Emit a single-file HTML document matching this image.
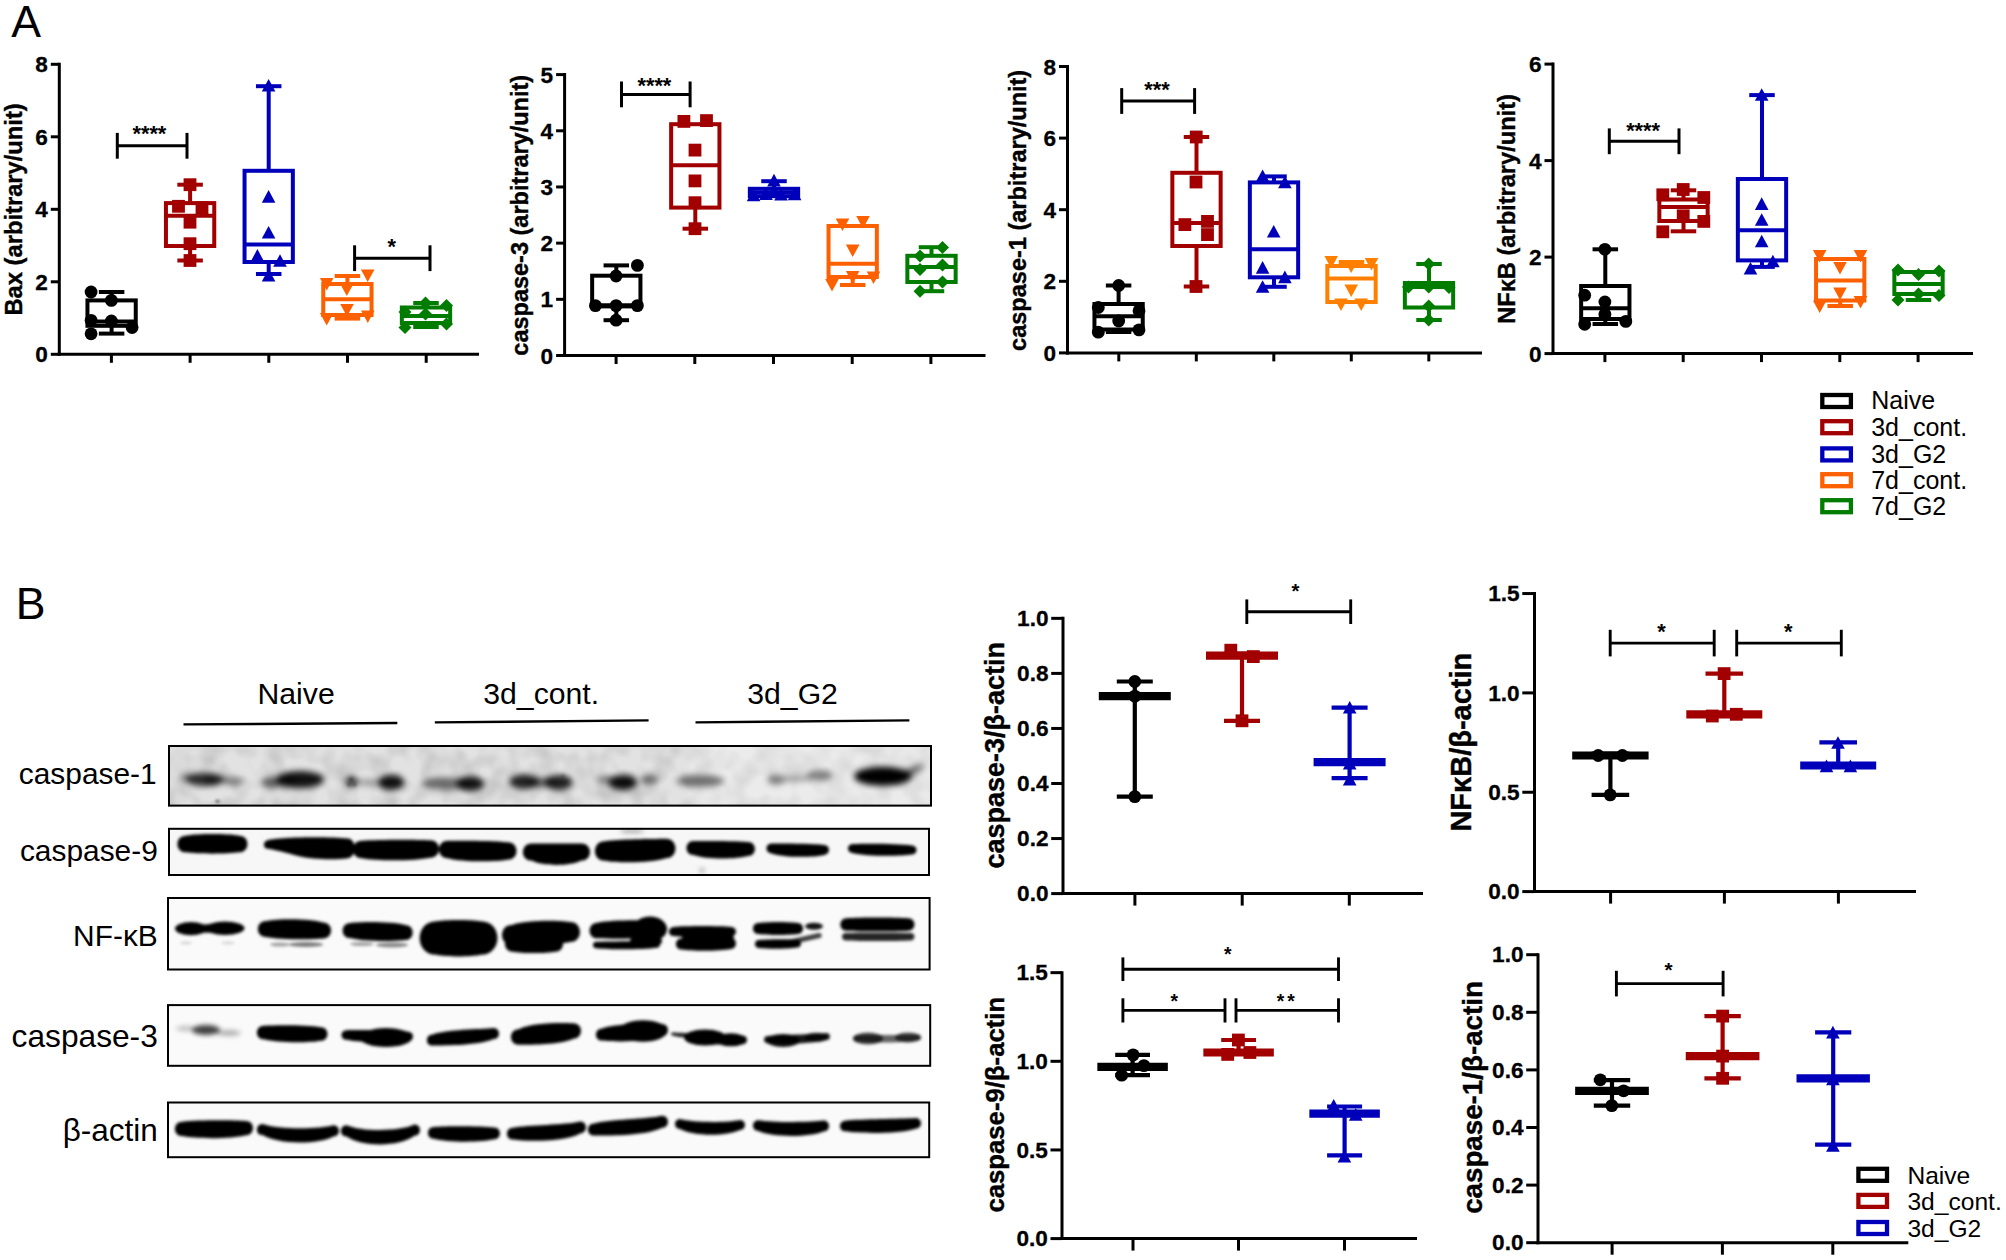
<!DOCTYPE html>
<html lang="en"><head><meta charset="utf-8"><title>Figure</title>
<style>html,body{margin:0;padding:0;background:#fff}svg{display:block}text{font-family:"Liberation Sans",sans-serif;fill:#000}</style>
</head><body>
<svg width="2006" height="1260" viewBox="0 0 2006 1260">
<rect x="0" y="0" width="2006" height="1260" fill="#ffffff"/>
<defs>
<filter id="b2" x="-10%" y="-50%" width="120%" height="200%"><feGaussianBlur stdDeviation="1.6"/></filter>
<filter id="b3" x="-10%" y="-50%" width="120%" height="200%"><feGaussianBlur stdDeviation="2.6"/></filter>
<filter id="b4" x="-10%" y="-60%" width="120%" height="220%"><feGaussianBlur stdDeviation="3.4"/></filter>
<filter id="noise" x="0" y="0" width="100%" height="100%"><feTurbulence type="fractalNoise" baseFrequency="0.045" numOctaves="2" seed="7" result="n"/><feColorMatrix type="matrix" values="0 0 0 0 0  0 0 0 0 0  0 0 0 0 0  0.9 0 0 0 -0.32"/></filter>
</defs>
<text x="11.2" y="36.8" font-size="44.6" font-weight="normal" text-anchor="start">A</text>
<text x="15.8" y="618.8" font-size="44.6" font-weight="normal" text-anchor="start">B</text>
<line x1="59.3" y1="62.8" x2="59.3" y2="355.8" stroke="#000000" stroke-width="3" stroke-linecap="butt"/>
<line x1="57.8" y1="354.3" x2="479" y2="354.3" stroke="#000000" stroke-width="3" stroke-linecap="butt"/>
<line x1="50.8" y1="354.3" x2="59.3" y2="354.3" stroke="#000000" stroke-width="3" stroke-linecap="butt"/>
<text x="47.8" y="362.4" font-size="22.6" font-weight="bold" text-anchor="end" stroke="#000" stroke-width="0.3">0</text>
<line x1="50.8" y1="281.8" x2="59.3" y2="281.8" stroke="#000000" stroke-width="3" stroke-linecap="butt"/>
<text x="47.8" y="289.9" font-size="22.6" font-weight="bold" text-anchor="end" stroke="#000" stroke-width="0.3">2</text>
<line x1="50.8" y1="209.3" x2="59.3" y2="209.3" stroke="#000000" stroke-width="3" stroke-linecap="butt"/>
<text x="47.8" y="217.4" font-size="22.6" font-weight="bold" text-anchor="end" stroke="#000" stroke-width="0.3">4</text>
<line x1="50.8" y1="136.8" x2="59.3" y2="136.8" stroke="#000000" stroke-width="3" stroke-linecap="butt"/>
<text x="47.8" y="144.9" font-size="22.6" font-weight="bold" text-anchor="end" stroke="#000" stroke-width="0.3">6</text>
<line x1="50.8" y1="64.3" x2="59.3" y2="64.3" stroke="#000000" stroke-width="3" stroke-linecap="butt"/>
<text x="47.8" y="72.4" font-size="22.6" font-weight="bold" text-anchor="end" stroke="#000" stroke-width="0.3">8</text>
<line x1="111.4" y1="354.3" x2="111.4" y2="362.8" stroke="#000000" stroke-width="3" stroke-linecap="butt"/>
<line x1="190.1" y1="354.3" x2="190.1" y2="362.8" stroke="#000000" stroke-width="3" stroke-linecap="butt"/>
<line x1="268.8" y1="354.3" x2="268.8" y2="362.8" stroke="#000000" stroke-width="3" stroke-linecap="butt"/>
<line x1="347.5" y1="354.3" x2="347.5" y2="362.8" stroke="#000000" stroke-width="3" stroke-linecap="butt"/>
<line x1="426.2" y1="354.3" x2="426.2" y2="362.8" stroke="#000000" stroke-width="3" stroke-linecap="butt"/>
<text transform="translate(22.3 209.4) rotate(-90)" font-size="23.8" font-weight="bold" text-anchor="middle" stroke="#000" stroke-width="0.4" textLength="212.3" lengthAdjust="spacingAndGlyphs">Bax (arbitrary/unit)</text>
<line x1="117.3" y1="132.9" x2="117.3" y2="158.7" stroke="#000000" stroke-width="3" stroke-linecap="butt"/>
<line x1="187" y1="132.9" x2="187" y2="158.7" stroke="#000000" stroke-width="3" stroke-linecap="butt"/>
<line x1="117.3" y1="145.8" x2="187" y2="145.8" stroke="#000000" stroke-width="3" stroke-linecap="butt"/>
<text x="149.4" y="141.14" font-size="21.8" font-weight="bold" text-anchor="middle">****</text>
<line x1="354.6" y1="245.3" x2="354.6" y2="271.1" stroke="#000000" stroke-width="3" stroke-linecap="butt"/>
<line x1="430" y1="245.3" x2="430" y2="271.1" stroke="#000000" stroke-width="3" stroke-linecap="butt"/>
<line x1="354.6" y1="258.2" x2="430" y2="258.2" stroke="#000000" stroke-width="3" stroke-linecap="butt"/>
<text x="391.8" y="253.64" font-size="21.8" font-weight="bold" text-anchor="middle">*</text>
<rect x="87.45" y="300.4" width="48.3" height="25.4" fill="none" stroke="#000000" stroke-width="4"/>
<line x1="87.45" y1="321.5" x2="135.75" y2="321.5" stroke="#000000" stroke-width="4" stroke-linecap="butt"/>
<line x1="111.6" y1="292" x2="111.6" y2="300.4" stroke="#000000" stroke-width="4" stroke-linecap="butt"/>
<line x1="98.85" y1="292" x2="124.35" y2="292" stroke="#000000" stroke-width="4" stroke-linecap="butt"/>
<line x1="111.6" y1="325.8" x2="111.6" y2="333.6" stroke="#000000" stroke-width="4" stroke-linecap="butt"/>
<line x1="98.85" y1="333.6" x2="124.35" y2="333.6" stroke="#000000" stroke-width="4" stroke-linecap="butt"/>
<circle cx="91.1" cy="292" r="6.4" fill="#000000"/>
<circle cx="111.4" cy="300.4" r="6.4" fill="#000000"/>
<circle cx="91.1" cy="320.3" r="6.4" fill="#000000"/>
<circle cx="111.4" cy="321" r="6.4" fill="#000000"/>
<circle cx="132.1" cy="327.5" r="6.4" fill="#000000"/>
<circle cx="91.1" cy="333.8" r="6.4" fill="#000000"/>
<rect x="165.95" y="203.1" width="48.3" height="42.9" fill="none" stroke="#A20000" stroke-width="4"/>
<line x1="165.95" y1="215.8" x2="214.25" y2="215.8" stroke="#A20000" stroke-width="4" stroke-linecap="butt"/>
<line x1="190.1" y1="184.7" x2="190.1" y2="203.1" stroke="#A20000" stroke-width="4" stroke-linecap="butt"/>
<line x1="177.35" y1="184.7" x2="202.85" y2="184.7" stroke="#A20000" stroke-width="4" stroke-linecap="butt"/>
<line x1="190.1" y1="246" x2="190.1" y2="260.5" stroke="#A20000" stroke-width="4" stroke-linecap="butt"/>
<line x1="177.35" y1="260.5" x2="202.85" y2="260.5" stroke="#A20000" stroke-width="4" stroke-linecap="butt"/>
<rect x="183.6" y="178.3" width="12.8" height="12.8" fill="#A20000"/>
<rect x="172.1" y="199.9" width="12.8" height="12.8" fill="#A20000"/>
<rect x="195.6" y="201.4" width="12.8" height="12.8" fill="#A20000"/>
<rect x="183.6" y="215.8" width="12.8" height="12.8" fill="#A20000"/>
<rect x="183.6" y="237.3" width="12.8" height="12.8" fill="#A20000"/>
<rect x="183.6" y="254.1" width="12.8" height="12.8" fill="#A20000"/>
<rect x="244.55" y="170.8" width="48.3" height="91.2" fill="none" stroke="#0000BA" stroke-width="4"/>
<line x1="244.55" y1="244.5" x2="292.85" y2="244.5" stroke="#0000BA" stroke-width="4" stroke-linecap="butt"/>
<line x1="268.7" y1="86.2" x2="268.7" y2="170.8" stroke="#0000BA" stroke-width="4" stroke-linecap="butt"/>
<line x1="255.95" y1="86.2" x2="281.45" y2="86.2" stroke="#0000BA" stroke-width="4" stroke-linecap="butt"/>
<line x1="268.7" y1="262" x2="268.7" y2="274" stroke="#0000BA" stroke-width="4" stroke-linecap="butt"/>
<line x1="255.95" y1="274" x2="281.45" y2="274" stroke="#0000BA" stroke-width="4" stroke-linecap="butt"/>
<polygon points="268.6,79 275.4,91.6 261.8,91.6" fill="#0000BA"/>
<polygon points="268.6,190.1 275.4,202.7 261.8,202.7" fill="#0000BA"/>
<polygon points="268.6,226 275.4,238.6 261.8,238.6" fill="#0000BA"/>
<polygon points="257.4,249.1 264.2,261.7 250.6,261.7" fill="#0000BA"/>
<polygon points="280,254.2 286.8,266.8 273.2,266.8" fill="#0000BA"/>
<polygon points="268.6,269 275.4,281.6 261.8,281.6" fill="#0000BA"/>
<rect x="323.25" y="284" width="48.3" height="31" fill="none" stroke="#FD6000" stroke-width="4"/>
<line x1="323.25" y1="299.3" x2="371.55" y2="299.3" stroke="#FD6000" stroke-width="4" stroke-linecap="butt"/>
<line x1="347.4" y1="276" x2="347.4" y2="284" stroke="#FD6000" stroke-width="4" stroke-linecap="butt"/>
<line x1="334.65" y1="276" x2="360.15" y2="276" stroke="#FD6000" stroke-width="4" stroke-linecap="butt"/>
<line x1="347.4" y1="315" x2="347.4" y2="318.6" stroke="#FD6000" stroke-width="4" stroke-linecap="butt"/>
<line x1="334.65" y1="318.6" x2="360.15" y2="318.6" stroke="#FD6000" stroke-width="4" stroke-linecap="butt"/>
<polygon points="367.7,282.1 374.5,269.5 360.9,269.5" fill="#FD6000"/>
<polygon points="326.7,290.6 333.5,278 319.9,278" fill="#FD6000"/>
<polygon points="346.8,296.1 353.6,283.5 340,283.5" fill="#FD6000"/>
<polygon points="347,316.6 353.8,304 340.2,304" fill="#FD6000"/>
<polygon points="367.8,323.1 374.6,310.5 361,310.5" fill="#FD6000"/>
<polygon points="326.7,325.6 333.5,313 319.9,313" fill="#FD6000"/>
<rect x="401.85" y="307.5" width="48.3" height="15.5" fill="none" stroke="#007C00" stroke-width="4"/>
<line x1="401.85" y1="316" x2="450.15" y2="316" stroke="#007C00" stroke-width="4" stroke-linecap="butt"/>
<line x1="426" y1="303" x2="426" y2="307.5" stroke="#007C00" stroke-width="4" stroke-linecap="butt"/>
<line x1="413.25" y1="303" x2="438.75" y2="303" stroke="#007C00" stroke-width="4" stroke-linecap="butt"/>
<line x1="426" y1="323" x2="426" y2="327" stroke="#007C00" stroke-width="4" stroke-linecap="butt"/>
<line x1="413.25" y1="327" x2="438.75" y2="327" stroke="#007C00" stroke-width="4" stroke-linecap="butt"/>
<polygon points="425.5,296.5 432,303 425.5,309.5 419,303" fill="#007C00"/>
<polygon points="446.5,299 453,305.5 446.5,312 440,305.5" fill="#007C00"/>
<polygon points="405,305.5 411.5,312 405,318.5 398.5,312" fill="#007C00"/>
<polygon points="425.5,307.5 432,314 425.5,320.5 419,314" fill="#007C00"/>
<polygon points="446.5,317.5 453,324 446.5,330.5 440,324" fill="#007C00"/>
<polygon points="405,321 411.5,327.5 405,334 398.5,327.5" fill="#007C00"/>
<line x1="564.6" y1="73.1" x2="564.6" y2="357" stroke="#000000" stroke-width="3" stroke-linecap="butt"/>
<line x1="563.1" y1="355.5" x2="985.5" y2="355.5" stroke="#000000" stroke-width="3" stroke-linecap="butt"/>
<line x1="556.1" y1="355.5" x2="564.6" y2="355.5" stroke="#000000" stroke-width="3" stroke-linecap="butt"/>
<text x="553.1" y="363.6" font-size="22.6" font-weight="bold" text-anchor="end" stroke="#000" stroke-width="0.3">0</text>
<line x1="556.1" y1="299.32" x2="564.6" y2="299.32" stroke="#000000" stroke-width="3" stroke-linecap="butt"/>
<text x="553.1" y="307.42" font-size="22.6" font-weight="bold" text-anchor="end" stroke="#000" stroke-width="0.3">1</text>
<line x1="556.1" y1="243.14" x2="564.6" y2="243.14" stroke="#000000" stroke-width="3" stroke-linecap="butt"/>
<text x="553.1" y="251.24" font-size="22.6" font-weight="bold" text-anchor="end" stroke="#000" stroke-width="0.3">2</text>
<line x1="556.1" y1="186.96" x2="564.6" y2="186.96" stroke="#000000" stroke-width="3" stroke-linecap="butt"/>
<text x="553.1" y="195.06" font-size="22.6" font-weight="bold" text-anchor="end" stroke="#000" stroke-width="0.3">3</text>
<line x1="556.1" y1="130.78" x2="564.6" y2="130.78" stroke="#000000" stroke-width="3" stroke-linecap="butt"/>
<text x="553.1" y="138.88" font-size="22.6" font-weight="bold" text-anchor="end" stroke="#000" stroke-width="0.3">4</text>
<line x1="556.1" y1="74.6" x2="564.6" y2="74.6" stroke="#000000" stroke-width="3" stroke-linecap="butt"/>
<text x="553.1" y="82.7" font-size="22.6" font-weight="bold" text-anchor="end" stroke="#000" stroke-width="0.3">5</text>
<line x1="616.1" y1="355.5" x2="616.1" y2="364" stroke="#000000" stroke-width="3" stroke-linecap="butt"/>
<line x1="694.8" y1="355.5" x2="694.8" y2="364" stroke="#000000" stroke-width="3" stroke-linecap="butt"/>
<line x1="773.5" y1="355.5" x2="773.5" y2="364" stroke="#000000" stroke-width="3" stroke-linecap="butt"/>
<line x1="852.2" y1="355.5" x2="852.2" y2="364" stroke="#000000" stroke-width="3" stroke-linecap="butt"/>
<line x1="930.9" y1="355.5" x2="930.9" y2="364" stroke="#000000" stroke-width="3" stroke-linecap="butt"/>
<text transform="translate(527.9 215.3) rotate(-90)" font-size="23.8" font-weight="bold" text-anchor="middle" stroke="#000" stroke-width="0.4" textLength="280.7" lengthAdjust="spacingAndGlyphs">caspase-3 (arbitrary/unit)</text>
<line x1="621.5" y1="81.5" x2="621.5" y2="107.3" stroke="#000000" stroke-width="3" stroke-linecap="butt"/>
<line x1="690.1" y1="81.5" x2="690.1" y2="107.3" stroke="#000000" stroke-width="3" stroke-linecap="butt"/>
<line x1="621.5" y1="94.4" x2="690.1" y2="94.4" stroke="#000000" stroke-width="3" stroke-linecap="butt"/>
<text x="654.4" y="93.14" font-size="21.8" font-weight="bold" text-anchor="middle">****</text>
<rect x="592.15" y="275.7" width="48.3" height="30.7" fill="none" stroke="#000000" stroke-width="4"/>
<line x1="592.15" y1="305.3" x2="640.45" y2="305.3" stroke="#000000" stroke-width="4" stroke-linecap="butt"/>
<line x1="616.3" y1="265.4" x2="616.3" y2="275.7" stroke="#000000" stroke-width="4" stroke-linecap="butt"/>
<line x1="603.55" y1="265.4" x2="629.05" y2="265.4" stroke="#000000" stroke-width="4" stroke-linecap="butt"/>
<line x1="616.3" y1="306.4" x2="616.3" y2="320.2" stroke="#000000" stroke-width="4" stroke-linecap="butt"/>
<line x1="603.55" y1="320.2" x2="629.05" y2="320.2" stroke="#000000" stroke-width="4" stroke-linecap="butt"/>
<circle cx="637.4" cy="265.4" r="6.4" fill="#000000"/>
<circle cx="616.1" cy="276" r="6.4" fill="#000000"/>
<circle cx="595.4" cy="305.6" r="6.4" fill="#000000"/>
<circle cx="616.1" cy="305.6" r="6.4" fill="#000000"/>
<circle cx="637.4" cy="305.6" r="6.4" fill="#000000"/>
<circle cx="616.1" cy="320.2" r="6.4" fill="#000000"/>
<rect x="671.15" y="124.2" width="48.3" height="83.4" fill="none" stroke="#A20000" stroke-width="4"/>
<line x1="671.15" y1="165.3" x2="719.45" y2="165.3" stroke="#A20000" stroke-width="4" stroke-linecap="butt"/>
<line x1="695.3" y1="207.6" x2="695.3" y2="228.7" stroke="#A20000" stroke-width="4" stroke-linecap="butt"/>
<line x1="682.55" y1="228.7" x2="708.05" y2="228.7" stroke="#A20000" stroke-width="4" stroke-linecap="butt"/>
<rect x="677.5" y="115" width="12.8" height="12.8" fill="#A20000"/>
<rect x="700.1" y="114.2" width="12.8" height="12.8" fill="#A20000"/>
<rect x="688.6" y="143.7" width="12.8" height="12.8" fill="#A20000"/>
<rect x="688.6" y="174.5" width="12.8" height="12.8" fill="#A20000"/>
<rect x="688.6" y="196.3" width="12.8" height="12.8" fill="#A20000"/>
<rect x="688.6" y="222.3" width="12.8" height="12.8" fill="#A20000"/>
<rect x="749.85" y="188.8" width="48.3" height="7.4" fill="none" stroke="#0000BA" stroke-width="4"/>
<line x1="749.85" y1="192.5" x2="798.15" y2="192.5" stroke="#0000BA" stroke-width="4" stroke-linecap="butt"/>
<line x1="774" y1="181.2" x2="774" y2="188.8" stroke="#0000BA" stroke-width="4" stroke-linecap="butt"/>
<line x1="761.25" y1="181.2" x2="786.75" y2="181.2" stroke="#0000BA" stroke-width="4" stroke-linecap="butt"/>
<polygon points="774,173.8 780.8,186.4 767.2,186.4" fill="#0000BA"/>
<polygon points="753.6,188.7 760.4,201.3 746.8,201.3" fill="#0000BA"/>
<polygon points="766,187.4 772.8,200 759.2,200" fill="#0000BA"/>
<polygon points="781,187.9 787.8,200.5 774.2,200.5" fill="#0000BA"/>
<polygon points="794.6,187.6 801.4,200.2 787.8,200.2" fill="#0000BA"/>
<polygon points="774,185.4 780.8,198 767.2,198" fill="#0000BA"/>
<rect x="828.55" y="226" width="48.3" height="51" fill="none" stroke="#FD6000" stroke-width="4"/>
<line x1="828.55" y1="263.8" x2="876.85" y2="263.8" stroke="#FD6000" stroke-width="4" stroke-linecap="butt"/>
<line x1="852.7" y1="277" x2="852.7" y2="285" stroke="#FD6000" stroke-width="4" stroke-linecap="butt"/>
<line x1="839.95" y1="285" x2="865.45" y2="285" stroke="#FD6000" stroke-width="4" stroke-linecap="butt"/>
<polygon points="842.5,231.1 849.3,218.5 835.7,218.5" fill="#FD6000"/>
<polygon points="863,228.6 869.8,216 856.2,216" fill="#FD6000"/>
<polygon points="852.7,257.1 859.5,244.5 845.9,244.5" fill="#FD6000"/>
<polygon points="852.7,283.6 859.5,271 845.9,271" fill="#FD6000"/>
<polygon points="873.5,284.1 880.3,271.5 866.7,271.5" fill="#FD6000"/>
<polygon points="832,291.6 838.8,279 825.2,279" fill="#FD6000"/>
<rect x="907.35" y="255.8" width="48.3" height="26.2" fill="none" stroke="#007C00" stroke-width="4"/>
<line x1="907.35" y1="267" x2="955.65" y2="267" stroke="#007C00" stroke-width="4" stroke-linecap="butt"/>
<line x1="931.5" y1="247.2" x2="931.5" y2="255.8" stroke="#007C00" stroke-width="4" stroke-linecap="butt"/>
<line x1="918.75" y1="247.2" x2="944.25" y2="247.2" stroke="#007C00" stroke-width="4" stroke-linecap="butt"/>
<line x1="931.5" y1="282" x2="931.5" y2="291.2" stroke="#007C00" stroke-width="4" stroke-linecap="butt"/>
<line x1="918.75" y1="291.2" x2="944.25" y2="291.2" stroke="#007C00" stroke-width="4" stroke-linecap="butt"/>
<polygon points="942.5,241 949,247.5 942.5,254 936,247.5" fill="#007C00"/>
<polygon points="920,249.5 926.5,256 920,262.5 913.5,256" fill="#007C00"/>
<polygon points="942.5,258.5 949,265 942.5,271.5 936,265" fill="#007C00"/>
<polygon points="920,263 926.5,269.5 920,276 913.5,269.5" fill="#007C00"/>
<polygon points="942.5,275.5 949,282 942.5,288.5 936,282" fill="#007C00"/>
<polygon points="920,284.7 926.5,291.2 920,297.7 913.5,291.2" fill="#007C00"/>
<line x1="1067.5" y1="65" x2="1067.5" y2="354.4" stroke="#000000" stroke-width="3" stroke-linecap="butt"/>
<line x1="1066" y1="352.9" x2="1482" y2="352.9" stroke="#000000" stroke-width="3" stroke-linecap="butt"/>
<line x1="1059" y1="352.9" x2="1067.5" y2="352.9" stroke="#000000" stroke-width="3" stroke-linecap="butt"/>
<text x="1056" y="361" font-size="22.6" font-weight="bold" text-anchor="end" stroke="#000" stroke-width="0.3">0</text>
<line x1="1059" y1="281.3" x2="1067.5" y2="281.3" stroke="#000000" stroke-width="3" stroke-linecap="butt"/>
<text x="1056" y="289.4" font-size="22.6" font-weight="bold" text-anchor="end" stroke="#000" stroke-width="0.3">2</text>
<line x1="1059" y1="209.7" x2="1067.5" y2="209.7" stroke="#000000" stroke-width="3" stroke-linecap="butt"/>
<text x="1056" y="217.8" font-size="22.6" font-weight="bold" text-anchor="end" stroke="#000" stroke-width="0.3">4</text>
<line x1="1059" y1="138.1" x2="1067.5" y2="138.1" stroke="#000000" stroke-width="3" stroke-linecap="butt"/>
<text x="1056" y="146.2" font-size="22.6" font-weight="bold" text-anchor="end" stroke="#000" stroke-width="0.3">6</text>
<line x1="1059" y1="66.5" x2="1067.5" y2="66.5" stroke="#000000" stroke-width="3" stroke-linecap="butt"/>
<text x="1056" y="74.6" font-size="22.6" font-weight="bold" text-anchor="end" stroke="#000" stroke-width="0.3">8</text>
<line x1="1118.8" y1="352.9" x2="1118.8" y2="361.4" stroke="#000000" stroke-width="3" stroke-linecap="butt"/>
<line x1="1196.3" y1="352.9" x2="1196.3" y2="361.4" stroke="#000000" stroke-width="3" stroke-linecap="butt"/>
<line x1="1273.8" y1="352.9" x2="1273.8" y2="361.4" stroke="#000000" stroke-width="3" stroke-linecap="butt"/>
<line x1="1351.3" y1="352.9" x2="1351.3" y2="361.4" stroke="#000000" stroke-width="3" stroke-linecap="butt"/>
<line x1="1428.8" y1="352.9" x2="1428.8" y2="361.4" stroke="#000000" stroke-width="3" stroke-linecap="butt"/>
<text transform="translate(1026.4 210.35) rotate(-90)" font-size="23.8" font-weight="bold" text-anchor="middle" stroke="#000" stroke-width="0.4" textLength="281.1" lengthAdjust="spacingAndGlyphs">caspase-1 (arbitrary/unit)</text>
<line x1="1121.7" y1="88.1" x2="1121.7" y2="113.9" stroke="#000000" stroke-width="3" stroke-linecap="butt"/>
<line x1="1194.6" y1="88.1" x2="1194.6" y2="113.9" stroke="#000000" stroke-width="3" stroke-linecap="butt"/>
<line x1="1121.7" y1="101" x2="1194.6" y2="101" stroke="#000000" stroke-width="3" stroke-linecap="butt"/>
<text x="1157.1" y="96.64" font-size="21.8" font-weight="bold" text-anchor="middle">***</text>
<rect x="1094.45" y="304" width="48.3" height="25.5" fill="none" stroke="#000000" stroke-width="4"/>
<line x1="1094.45" y1="316.3" x2="1142.75" y2="316.3" stroke="#000000" stroke-width="4" stroke-linecap="butt"/>
<line x1="1118.6" y1="285.5" x2="1118.6" y2="304" stroke="#000000" stroke-width="4" stroke-linecap="butt"/>
<line x1="1105.85" y1="285.5" x2="1131.35" y2="285.5" stroke="#000000" stroke-width="4" stroke-linecap="butt"/>
<line x1="1118.6" y1="329.5" x2="1118.6" y2="332" stroke="#000000" stroke-width="4" stroke-linecap="butt"/>
<line x1="1105.85" y1="332" x2="1131.35" y2="332" stroke="#000000" stroke-width="4" stroke-linecap="butt"/>
<circle cx="1118.7" cy="285.5" r="6.4" fill="#000000"/>
<circle cx="1098.3" cy="307.5" r="6.4" fill="#000000"/>
<circle cx="1139" cy="310.7" r="6.4" fill="#000000"/>
<circle cx="1118.7" cy="321" r="6.4" fill="#000000"/>
<circle cx="1139" cy="329.9" r="6.4" fill="#000000"/>
<circle cx="1098.3" cy="332.2" r="6.4" fill="#000000"/>
<rect x="1172.35" y="172.8" width="48.3" height="73.2" fill="none" stroke="#A20000" stroke-width="4"/>
<line x1="1172.35" y1="223" x2="1220.65" y2="223" stroke="#A20000" stroke-width="4" stroke-linecap="butt"/>
<line x1="1196.5" y1="137" x2="1196.5" y2="172.8" stroke="#A20000" stroke-width="4" stroke-linecap="butt"/>
<line x1="1183.75" y1="137" x2="1209.25" y2="137" stroke="#A20000" stroke-width="4" stroke-linecap="butt"/>
<line x1="1196.5" y1="246" x2="1196.5" y2="286.5" stroke="#A20000" stroke-width="4" stroke-linecap="butt"/>
<line x1="1183.75" y1="286.5" x2="1209.25" y2="286.5" stroke="#A20000" stroke-width="4" stroke-linecap="butt"/>
<rect x="1189.8" y="130.6" width="12.8" height="12.8" fill="#A20000"/>
<rect x="1189.6" y="175.6" width="12.8" height="12.8" fill="#A20000"/>
<rect x="1178.5" y="218.2" width="12.8" height="12.8" fill="#A20000"/>
<rect x="1201.1" y="215" width="12.8" height="12.8" fill="#A20000"/>
<rect x="1201.1" y="228.2" width="12.8" height="12.8" fill="#A20000"/>
<rect x="1189.6" y="280.1" width="12.8" height="12.8" fill="#A20000"/>
<rect x="1249.85" y="182.4" width="48.3" height="94.9" fill="none" stroke="#0000BA" stroke-width="4"/>
<line x1="1249.85" y1="249.3" x2="1298.15" y2="249.3" stroke="#0000BA" stroke-width="4" stroke-linecap="butt"/>
<line x1="1274" y1="176.4" x2="1274" y2="182.4" stroke="#0000BA" stroke-width="4" stroke-linecap="butt"/>
<line x1="1261.25" y1="176.4" x2="1286.75" y2="176.4" stroke="#0000BA" stroke-width="4" stroke-linecap="butt"/>
<line x1="1274" y1="277.3" x2="1274" y2="286.8" stroke="#0000BA" stroke-width="4" stroke-linecap="butt"/>
<line x1="1261.25" y1="286.8" x2="1286.75" y2="286.8" stroke="#0000BA" stroke-width="4" stroke-linecap="butt"/>
<polygon points="1262.6,169.4 1269.4,182 1255.8,182" fill="#0000BA"/>
<polygon points="1284.9,175.7 1291.7,188.3 1278.1,188.3" fill="#0000BA"/>
<polygon points="1273.7,224.9 1280.5,237.5 1266.9,237.5" fill="#0000BA"/>
<polygon points="1262.6,261.1 1269.4,273.7 1255.8,273.7" fill="#0000BA"/>
<polygon points="1284.9,270.6 1291.7,283.2 1278.1,283.2" fill="#0000BA"/>
<polygon points="1262.6,280.2 1269.4,292.8 1255.8,292.8" fill="#0000BA"/>
<rect x="1327.35" y="266" width="48.3" height="36" fill="none" stroke="#FF8000" stroke-width="4"/>
<line x1="1327.35" y1="278.5" x2="1375.65" y2="278.5" stroke="#FF8000" stroke-width="4" stroke-linecap="butt"/>
<line x1="1351.5" y1="262" x2="1351.5" y2="266" stroke="#FF8000" stroke-width="4" stroke-linecap="butt"/>
<line x1="1338.75" y1="262" x2="1364.25" y2="262" stroke="#FF8000" stroke-width="4" stroke-linecap="butt"/>
<polygon points="1331.2,268.6 1338,256 1324.4,256" fill="#FF8000"/>
<polygon points="1371.5,270.6 1378.3,258 1364.7,258" fill="#FF8000"/>
<polygon points="1351.2,273.1 1358,260.5 1344.4,260.5" fill="#FF8000"/>
<polygon points="1351.2,297.1 1358,284.5 1344.4,284.5" fill="#FF8000"/>
<polygon points="1341,311.1 1347.8,298.5 1334.2,298.5" fill="#FF8000"/>
<polygon points="1361.2,311.1 1368,298.5 1354.4,298.5" fill="#FF8000"/>
<rect x="1404.85" y="283" width="48.3" height="24.5" fill="none" stroke="#007C00" stroke-width="4"/>
<line x1="1404.85" y1="287" x2="1453.15" y2="287" stroke="#007C00" stroke-width="4" stroke-linecap="butt"/>
<line x1="1429" y1="264" x2="1429" y2="283" stroke="#007C00" stroke-width="4" stroke-linecap="butt"/>
<line x1="1416.25" y1="264" x2="1441.75" y2="264" stroke="#007C00" stroke-width="4" stroke-linecap="butt"/>
<line x1="1429" y1="307.5" x2="1429" y2="320" stroke="#007C00" stroke-width="4" stroke-linecap="butt"/>
<line x1="1416.25" y1="320" x2="1441.75" y2="320" stroke="#007C00" stroke-width="4" stroke-linecap="butt"/>
<polygon points="1428.7,257.5 1435.2,264 1428.7,270.5 1422.2,264" fill="#007C00"/>
<polygon points="1408.5,280.5 1415,287 1408.5,293.5 1402,287" fill="#007C00"/>
<polygon points="1428.7,280.5 1435.2,287 1428.7,293.5 1422.2,287" fill="#007C00"/>
<polygon points="1449,281 1455.5,287.5 1449,294 1442.5,287.5" fill="#007C00"/>
<polygon points="1428.7,299.5 1435.2,306 1428.7,312.5 1422.2,306" fill="#007C00"/>
<polygon points="1428.7,313.5 1435.2,320 1428.7,326.5 1422.2,320" fill="#007C00"/>
<line x1="1553" y1="62.6" x2="1553" y2="355.1" stroke="#000000" stroke-width="3" stroke-linecap="butt"/>
<line x1="1551.5" y1="353.6" x2="1973" y2="353.6" stroke="#000000" stroke-width="3" stroke-linecap="butt"/>
<line x1="1544.5" y1="353.6" x2="1553" y2="353.6" stroke="#000000" stroke-width="3" stroke-linecap="butt"/>
<text x="1541.5" y="361.7" font-size="22.6" font-weight="bold" text-anchor="end" stroke="#000" stroke-width="0.3">0</text>
<line x1="1544.5" y1="257.1" x2="1553" y2="257.1" stroke="#000000" stroke-width="3" stroke-linecap="butt"/>
<text x="1541.5" y="265.2" font-size="22.6" font-weight="bold" text-anchor="end" stroke="#000" stroke-width="0.3">2</text>
<line x1="1544.5" y1="160.6" x2="1553" y2="160.6" stroke="#000000" stroke-width="3" stroke-linecap="butt"/>
<text x="1541.5" y="168.7" font-size="22.6" font-weight="bold" text-anchor="end" stroke="#000" stroke-width="0.3">4</text>
<line x1="1544.5" y1="64.1" x2="1553" y2="64.1" stroke="#000000" stroke-width="3" stroke-linecap="butt"/>
<text x="1541.5" y="72.2" font-size="22.6" font-weight="bold" text-anchor="end" stroke="#000" stroke-width="0.3">6</text>
<line x1="1604.9" y1="353.6" x2="1604.9" y2="362.1" stroke="#000000" stroke-width="3" stroke-linecap="butt"/>
<line x1="1683.2" y1="353.6" x2="1683.2" y2="362.1" stroke="#000000" stroke-width="3" stroke-linecap="butt"/>
<line x1="1761.5" y1="353.6" x2="1761.5" y2="362.1" stroke="#000000" stroke-width="3" stroke-linecap="butt"/>
<line x1="1839.8" y1="353.6" x2="1839.8" y2="362.1" stroke="#000000" stroke-width="3" stroke-linecap="butt"/>
<line x1="1918.1" y1="353.6" x2="1918.1" y2="362.1" stroke="#000000" stroke-width="3" stroke-linecap="butt"/>
<text transform="translate(1514.7 208.95) rotate(-90)" font-size="23.8" font-weight="bold" text-anchor="middle" stroke="#000" stroke-width="0.4" textLength="229.7" lengthAdjust="spacingAndGlyphs">NFκB (arbitrary/unit)</text>
<line x1="1609.3" y1="128.4" x2="1609.3" y2="154.2" stroke="#000000" stroke-width="3" stroke-linecap="butt"/>
<line x1="1679" y1="128.4" x2="1679" y2="154.2" stroke="#000000" stroke-width="3" stroke-linecap="butt"/>
<line x1="1609.3" y1="141.3" x2="1679" y2="141.3" stroke="#000000" stroke-width="3" stroke-linecap="butt"/>
<text x="1643.1" y="138.14" font-size="21.8" font-weight="bold" text-anchor="middle">****</text>
<rect x="1581.15" y="286" width="48.3" height="33" fill="none" stroke="#000000" stroke-width="4"/>
<line x1="1581.15" y1="308.3" x2="1629.45" y2="308.3" stroke="#000000" stroke-width="4" stroke-linecap="butt"/>
<line x1="1605.3" y1="249.3" x2="1605.3" y2="286" stroke="#000000" stroke-width="4" stroke-linecap="butt"/>
<line x1="1592.55" y1="249.3" x2="1618.05" y2="249.3" stroke="#000000" stroke-width="4" stroke-linecap="butt"/>
<line x1="1605.3" y1="319" x2="1605.3" y2="324" stroke="#000000" stroke-width="4" stroke-linecap="butt"/>
<line x1="1592.55" y1="324" x2="1618.05" y2="324" stroke="#000000" stroke-width="4" stroke-linecap="butt"/>
<circle cx="1604.9" cy="249.3" r="6.4" fill="#000000"/>
<circle cx="1584.7" cy="295.2" r="6.4" fill="#000000"/>
<circle cx="1604.9" cy="302" r="6.4" fill="#000000"/>
<circle cx="1604.9" cy="314.4" r="6.4" fill="#000000"/>
<circle cx="1625.8" cy="321.4" r="6.4" fill="#000000"/>
<circle cx="1584.7" cy="324.3" r="6.4" fill="#000000"/>
<rect x="1659.35" y="199.5" width="48.3" height="21.5" fill="none" stroke="#A20000" stroke-width="4"/>
<line x1="1659.35" y1="207" x2="1707.65" y2="207" stroke="#A20000" stroke-width="4" stroke-linecap="butt"/>
<line x1="1683.5" y1="190.3" x2="1683.5" y2="199.5" stroke="#A20000" stroke-width="4" stroke-linecap="butt"/>
<line x1="1670.75" y1="190.3" x2="1696.25" y2="190.3" stroke="#A20000" stroke-width="4" stroke-linecap="butt"/>
<line x1="1683.5" y1="221" x2="1683.5" y2="231.3" stroke="#A20000" stroke-width="4" stroke-linecap="butt"/>
<line x1="1670.75" y1="231.3" x2="1696.25" y2="231.3" stroke="#A20000" stroke-width="4" stroke-linecap="butt"/>
<rect x="1676.8" y="183.1" width="12.8" height="12.8" fill="#A20000"/>
<rect x="1656.4" y="188.4" width="12.8" height="12.8" fill="#A20000"/>
<rect x="1697.4" y="191.1" width="12.8" height="12.8" fill="#A20000"/>
<rect x="1676.8" y="209.4" width="12.8" height="12.8" fill="#A20000"/>
<rect x="1697.4" y="215" width="12.8" height="12.8" fill="#A20000"/>
<rect x="1656.4" y="225.4" width="12.8" height="12.8" fill="#A20000"/>
<rect x="1737.85" y="179" width="48.3" height="81.4" fill="none" stroke="#0000BA" stroke-width="4"/>
<line x1="1737.85" y1="230.2" x2="1786.15" y2="230.2" stroke="#0000BA" stroke-width="4" stroke-linecap="butt"/>
<line x1="1762" y1="95.1" x2="1762" y2="179" stroke="#0000BA" stroke-width="4" stroke-linecap="butt"/>
<line x1="1749.25" y1="95.1" x2="1774.75" y2="95.1" stroke="#0000BA" stroke-width="4" stroke-linecap="butt"/>
<line x1="1762" y1="260.4" x2="1762" y2="266.9" stroke="#0000BA" stroke-width="4" stroke-linecap="butt"/>
<line x1="1749.25" y1="266.9" x2="1774.75" y2="266.9" stroke="#0000BA" stroke-width="4" stroke-linecap="butt"/>
<polygon points="1761.7,88.2 1768.5,100.8 1754.9,100.8" fill="#0000BA"/>
<polygon points="1761.7,197.3 1768.5,209.9 1754.9,209.9" fill="#0000BA"/>
<polygon points="1761.7,213.2 1768.5,225.8 1754.9,225.8" fill="#0000BA"/>
<polygon points="1761.7,234.7 1768.5,247.3 1754.9,247.3" fill="#0000BA"/>
<polygon points="1772.9,254.7 1779.7,267.3 1766.1,267.3" fill="#0000BA"/>
<polygon points="1750.5,261.9 1757.3,274.5 1743.7,274.5" fill="#0000BA"/>
<rect x="1816.05" y="259" width="48.3" height="41.5" fill="none" stroke="#FD6000" stroke-width="4"/>
<line x1="1816.05" y1="280.5" x2="1864.35" y2="280.5" stroke="#FD6000" stroke-width="4" stroke-linecap="butt"/>
<line x1="1840.2" y1="300.5" x2="1840.2" y2="306" stroke="#FD6000" stroke-width="4" stroke-linecap="butt"/>
<line x1="1827.45" y1="306" x2="1852.95" y2="306" stroke="#FD6000" stroke-width="4" stroke-linecap="butt"/>
<polygon points="1819.7,262.6 1826.5,250 1812.9,250" fill="#FD6000"/>
<polygon points="1860.5,262.6 1867.3,250 1853.7,250" fill="#FD6000"/>
<polygon points="1840,274.6 1846.8,262 1833.2,262" fill="#FD6000"/>
<polygon points="1840,300.1 1846.8,287.5 1833.2,287.5" fill="#FD6000"/>
<polygon points="1860.5,308.6 1867.3,296 1853.7,296" fill="#FD6000"/>
<polygon points="1819.7,313.1 1826.5,300.5 1812.9,300.5" fill="#FD6000"/>
<rect x="1894.35" y="272" width="48.3" height="22" fill="none" stroke="#007C00" stroke-width="4"/>
<line x1="1894.35" y1="284" x2="1942.65" y2="284" stroke="#007C00" stroke-width="4" stroke-linecap="butt"/>
<line x1="1918.5" y1="294" x2="1918.5" y2="300" stroke="#007C00" stroke-width="4" stroke-linecap="butt"/>
<line x1="1905.75" y1="300" x2="1931.25" y2="300" stroke="#007C00" stroke-width="4" stroke-linecap="butt"/>
<polygon points="1898,263.5 1904.5,270 1898,276.5 1891.5,270" fill="#007C00"/>
<polygon points="1939,264.5 1945.5,271 1939,277.5 1932.5,271" fill="#007C00"/>
<polygon points="1918.5,268 1925,274.5 1918.5,281 1912,274.5" fill="#007C00"/>
<polygon points="1918.5,287.5 1925,294 1918.5,300.5 1912,294" fill="#007C00"/>
<polygon points="1939,289 1945.5,295.5 1939,302 1932.5,295.5" fill="#007C00"/>
<polygon points="1898,293.5 1904.5,300 1898,306.5 1891.5,300" fill="#007C00"/>
<rect x="1822.3" y="395" width="28.6" height="12" fill="none" stroke="#000000" stroke-width="4.3"/>
<text x="1871.2" y="409.3" font-size="25" font-weight="normal" text-anchor="start">Naive</text>
<rect x="1822.3" y="421.2" width="28.6" height="12" fill="none" stroke="#A20000" stroke-width="4.3"/>
<text x="1871.2" y="435.5" font-size="25" font-weight="normal" text-anchor="start">3d_cont.</text>
<rect x="1822.3" y="448.4" width="28.6" height="12" fill="none" stroke="#0000BA" stroke-width="4.3"/>
<text x="1871.2" y="462.7" font-size="25" font-weight="normal" text-anchor="start">3d_G2</text>
<rect x="1822.3" y="474.2" width="28.6" height="12" fill="none" stroke="#FD6000" stroke-width="4.3"/>
<text x="1871.2" y="488.5" font-size="25" font-weight="normal" text-anchor="start">7d_cont.</text>
<rect x="1822.3" y="500.2" width="28.6" height="12" fill="none" stroke="#007C00" stroke-width="4.3"/>
<text x="1871.2" y="514.5" font-size="25" font-weight="normal" text-anchor="start">7d_G2</text>
<line x1="1063" y1="616.85" x2="1063" y2="895.1" stroke="#000000" stroke-width="3" stroke-linecap="butt"/>
<line x1="1061.5" y1="893.6" x2="1423" y2="893.6" stroke="#000000" stroke-width="3" stroke-linecap="butt"/>
<line x1="1051.2" y1="893.6" x2="1063" y2="893.6" stroke="#000000" stroke-width="3" stroke-linecap="butt"/>
<text x="1048.5" y="901.2" font-size="22.6" font-weight="bold" text-anchor="end" stroke="#000" stroke-width="0.3">0.0</text>
<line x1="1051.2" y1="838.55" x2="1063" y2="838.55" stroke="#000000" stroke-width="3" stroke-linecap="butt"/>
<text x="1048.5" y="846.15" font-size="22.6" font-weight="bold" text-anchor="end" stroke="#000" stroke-width="0.3">0.2</text>
<line x1="1051.2" y1="783.5" x2="1063" y2="783.5" stroke="#000000" stroke-width="3" stroke-linecap="butt"/>
<text x="1048.5" y="791.1" font-size="22.6" font-weight="bold" text-anchor="end" stroke="#000" stroke-width="0.3">0.4</text>
<line x1="1051.2" y1="728.45" x2="1063" y2="728.45" stroke="#000000" stroke-width="3" stroke-linecap="butt"/>
<text x="1048.5" y="736.05" font-size="22.6" font-weight="bold" text-anchor="end" stroke="#000" stroke-width="0.3">0.6</text>
<line x1="1051.2" y1="673.4" x2="1063" y2="673.4" stroke="#000000" stroke-width="3" stroke-linecap="butt"/>
<text x="1048.5" y="681" font-size="22.6" font-weight="bold" text-anchor="end" stroke="#000" stroke-width="0.3">0.8</text>
<line x1="1051.2" y1="618.35" x2="1063" y2="618.35" stroke="#000000" stroke-width="3" stroke-linecap="butt"/>
<text x="1048.5" y="625.95" font-size="22.6" font-weight="bold" text-anchor="end" stroke="#000" stroke-width="0.3">1.0</text>
<line x1="1134.9" y1="893.6" x2="1134.9" y2="905.6" stroke="#000000" stroke-width="3" stroke-linecap="butt"/>
<line x1="1242.2" y1="893.6" x2="1242.2" y2="905.6" stroke="#000000" stroke-width="3" stroke-linecap="butt"/>
<line x1="1349.3" y1="893.6" x2="1349.3" y2="905.6" stroke="#000000" stroke-width="3" stroke-linecap="butt"/>
<text transform="translate(1004.3 755.2) rotate(-90)" font-size="27" font-weight="bold" text-anchor="middle" stroke="#000" stroke-width="0.4" textLength="226.4" lengthAdjust="spacingAndGlyphs">caspase-3/β-actin</text>
<line x1="1246.8" y1="599.4" x2="1246.8" y2="624" stroke="#000000" stroke-width="2.9" stroke-linecap="butt"/>
<line x1="1350.7" y1="599.4" x2="1350.7" y2="624" stroke="#000000" stroke-width="2.9" stroke-linecap="butt"/>
<line x1="1246.8" y1="611.7" x2="1350.7" y2="611.7" stroke="#000000" stroke-width="2.9" stroke-linecap="butt"/>
<text x="1295.4" y="597.9" font-size="20.3" font-weight="bold" text-anchor="middle">*</text>
<line x1="1134.8" y1="681.5" x2="1134.8" y2="796.6" stroke="#000000" stroke-width="4.2" stroke-linecap="butt"/>
<line x1="1116.8" y1="681.5" x2="1152.8" y2="681.5" stroke="#000000" stroke-width="4.2" stroke-linecap="butt"/>
<line x1="1116.8" y1="796.6" x2="1152.8" y2="796.6" stroke="#000000" stroke-width="4.2" stroke-linecap="butt"/>
<line x1="1098.8" y1="696.1" x2="1170.8" y2="696.1" stroke="#000000" stroke-width="8.2" stroke-linecap="butt"/>
<circle cx="1134.8" cy="681.5" r="6.4" fill="#000000"/>
<circle cx="1134.8" cy="696.1" r="6.4" fill="#000000"/>
<circle cx="1134.8" cy="796.6" r="6.4" fill="#000000"/>
<line x1="1242" y1="653.5" x2="1242" y2="720.8" stroke="#A20000" stroke-width="4.2" stroke-linecap="butt"/>
<line x1="1224" y1="653.5" x2="1260" y2="653.5" stroke="#A20000" stroke-width="4.2" stroke-linecap="butt"/>
<line x1="1224" y1="720.8" x2="1260" y2="720.8" stroke="#A20000" stroke-width="4.2" stroke-linecap="butt"/>
<line x1="1206" y1="655.7" x2="1278" y2="655.7" stroke="#A20000" stroke-width="8.2" stroke-linecap="butt"/>
<rect x="1224.4" y="643.8" width="12.8" height="12.8" fill="#A20000"/>
<rect x="1246.9" y="650.2" width="12.8" height="12.8" fill="#A20000"/>
<rect x="1235.6" y="714.4" width="12.8" height="12.8" fill="#A20000"/>
<line x1="1349.6" y1="707.6" x2="1349.6" y2="778.2" stroke="#0000BA" stroke-width="4.2" stroke-linecap="butt"/>
<line x1="1331.6" y1="707.6" x2="1367.6" y2="707.6" stroke="#0000BA" stroke-width="4.2" stroke-linecap="butt"/>
<line x1="1331.6" y1="778.2" x2="1367.6" y2="778.2" stroke="#0000BA" stroke-width="4.2" stroke-linecap="butt"/>
<line x1="1313.6" y1="762.2" x2="1385.6" y2="762.2" stroke="#0000BA" stroke-width="8.2" stroke-linecap="butt"/>
<polygon points="1349.7,701 1356.5,713.6 1342.9,713.6" fill="#0000BA"/>
<polygon points="1349.7,756.8 1356.5,769.4 1342.9,769.4" fill="#0000BA"/>
<polygon points="1349.7,772.8 1356.5,785.4 1342.9,785.4" fill="#0000BA"/>
<line x1="1534.5" y1="592.05" x2="1534.5" y2="893.1" stroke="#000000" stroke-width="3" stroke-linecap="butt"/>
<line x1="1533" y1="891.6" x2="1916" y2="891.6" stroke="#000000" stroke-width="3" stroke-linecap="butt"/>
<line x1="1522.3" y1="891.6" x2="1534.5" y2="891.6" stroke="#000000" stroke-width="3" stroke-linecap="butt"/>
<text x="1519.6" y="899.2" font-size="22.6" font-weight="bold" text-anchor="end" stroke="#000" stroke-width="0.3">0.0</text>
<line x1="1522.3" y1="792.25" x2="1534.5" y2="792.25" stroke="#000000" stroke-width="3" stroke-linecap="butt"/>
<text x="1519.6" y="799.85" font-size="22.6" font-weight="bold" text-anchor="end" stroke="#000" stroke-width="0.3">0.5</text>
<line x1="1522.3" y1="692.9" x2="1534.5" y2="692.9" stroke="#000000" stroke-width="3" stroke-linecap="butt"/>
<text x="1519.6" y="700.5" font-size="22.6" font-weight="bold" text-anchor="end" stroke="#000" stroke-width="0.3">1.0</text>
<line x1="1522.3" y1="593.55" x2="1534.5" y2="593.55" stroke="#000000" stroke-width="3" stroke-linecap="butt"/>
<text x="1519.6" y="601.15" font-size="22.6" font-weight="bold" text-anchor="end" stroke="#000" stroke-width="0.3">1.5</text>
<line x1="1610.6" y1="891.6" x2="1610.6" y2="903.6" stroke="#000000" stroke-width="3" stroke-linecap="butt"/>
<line x1="1724.4" y1="891.6" x2="1724.4" y2="903.6" stroke="#000000" stroke-width="3" stroke-linecap="butt"/>
<line x1="1838.4" y1="891.6" x2="1838.4" y2="903.6" stroke="#000000" stroke-width="3" stroke-linecap="butt"/>
<text transform="translate(1471.4 742.2) rotate(-90)" font-size="29" font-weight="bold" text-anchor="middle" stroke="#000" stroke-width="0.4" textLength="178.8" lengthAdjust="spacingAndGlyphs">NFκB/β-actin</text>
<line x1="1610.2" y1="629.8" x2="1610.2" y2="656.4" stroke="#000000" stroke-width="2.9" stroke-linecap="butt"/>
<line x1="1714.2" y1="629.8" x2="1714.2" y2="656.4" stroke="#000000" stroke-width="2.9" stroke-linecap="butt"/>
<line x1="1610.2" y1="643.1" x2="1714.2" y2="643.1" stroke="#000000" stroke-width="2.9" stroke-linecap="butt"/>
<text x="1661.4" y="638.94" font-size="21.8" font-weight="bold" text-anchor="middle">*</text>
<line x1="1736.7" y1="629.8" x2="1736.7" y2="656.4" stroke="#000000" stroke-width="2.9" stroke-linecap="butt"/>
<line x1="1841.3" y1="629.8" x2="1841.3" y2="656.4" stroke="#000000" stroke-width="2.9" stroke-linecap="butt"/>
<line x1="1736.7" y1="643.1" x2="1841.3" y2="643.1" stroke="#000000" stroke-width="2.9" stroke-linecap="butt"/>
<text x="1788.2" y="638.94" font-size="21.8" font-weight="bold" text-anchor="middle">*</text>
<line x1="1610.4" y1="753.5" x2="1610.4" y2="794.9" stroke="#000000" stroke-width="4.2" stroke-linecap="butt"/>
<line x1="1591.6" y1="753.5" x2="1629.2" y2="753.5" stroke="#000000" stroke-width="4.2" stroke-linecap="butt"/>
<line x1="1591.6" y1="794.9" x2="1629.2" y2="794.9" stroke="#000000" stroke-width="4.2" stroke-linecap="butt"/>
<line x1="1572.2" y1="755.5" x2="1648.6" y2="755.5" stroke="#000000" stroke-width="8.2" stroke-linecap="butt"/>
<circle cx="1598.2" cy="755.5" r="6.4" fill="#000000"/>
<circle cx="1622.4" cy="755.5" r="6.4" fill="#000000"/>
<circle cx="1610.2" cy="794.9" r="6.4" fill="#000000"/>
<line x1="1724.3" y1="673.6" x2="1724.3" y2="715" stroke="#A20000" stroke-width="4.2" stroke-linecap="butt"/>
<line x1="1705.5" y1="673.6" x2="1743.1" y2="673.6" stroke="#A20000" stroke-width="4.2" stroke-linecap="butt"/>
<line x1="1705.5" y1="715" x2="1743.1" y2="715" stroke="#A20000" stroke-width="4.2" stroke-linecap="butt"/>
<line x1="1686.3" y1="714.3" x2="1762.3" y2="714.3" stroke="#A20000" stroke-width="8.2" stroke-linecap="butt"/>
<rect x="1717.7" y="667.2" width="12.8" height="12.8" fill="#A20000"/>
<rect x="1705.9" y="709.6" width="12.8" height="12.8" fill="#A20000"/>
<rect x="1729.9" y="707.9" width="12.8" height="12.8" fill="#A20000"/>
<line x1="1838.2" y1="742.3" x2="1838.2" y2="766" stroke="#0000BA" stroke-width="4.2" stroke-linecap="butt"/>
<line x1="1819.4" y1="742.3" x2="1857" y2="742.3" stroke="#0000BA" stroke-width="4.2" stroke-linecap="butt"/>
<line x1="1819.4" y1="766" x2="1857" y2="766" stroke="#0000BA" stroke-width="4.2" stroke-linecap="butt"/>
<line x1="1800.2" y1="765.5" x2="1876.2" y2="765.5" stroke="#0000BA" stroke-width="8.2" stroke-linecap="butt"/>
<polygon points="1838,736.2 1844.8,748.8 1831.2,748.8" fill="#0000BA"/>
<polygon points="1826.5,759.6 1833.3,772.2 1819.7,772.2" fill="#0000BA"/>
<polygon points="1850.4,759.6 1857.2,772.2 1843.6,772.2" fill="#0000BA"/>
<line x1="1062" y1="971.15" x2="1062" y2="1240.1" stroke="#000000" stroke-width="3" stroke-linecap="butt"/>
<line x1="1060.5" y1="1238.6" x2="1417" y2="1238.6" stroke="#000000" stroke-width="3" stroke-linecap="butt"/>
<line x1="1050.5" y1="1238.6" x2="1062" y2="1238.6" stroke="#000000" stroke-width="3" stroke-linecap="butt"/>
<text x="1047.8" y="1246.2" font-size="22.6" font-weight="bold" text-anchor="end" stroke="#000" stroke-width="0.3">0.0</text>
<line x1="1050.5" y1="1149.95" x2="1062" y2="1149.95" stroke="#000000" stroke-width="3" stroke-linecap="butt"/>
<text x="1047.8" y="1157.55" font-size="22.6" font-weight="bold" text-anchor="end" stroke="#000" stroke-width="0.3">0.5</text>
<line x1="1050.5" y1="1061.3" x2="1062" y2="1061.3" stroke="#000000" stroke-width="3" stroke-linecap="butt"/>
<text x="1047.8" y="1068.9" font-size="22.6" font-weight="bold" text-anchor="end" stroke="#000" stroke-width="0.3">1.0</text>
<line x1="1050.5" y1="972.65" x2="1062" y2="972.65" stroke="#000000" stroke-width="3" stroke-linecap="butt"/>
<text x="1047.8" y="980.25" font-size="22.6" font-weight="bold" text-anchor="end" stroke="#000" stroke-width="0.3">1.5</text>
<line x1="1133" y1="1238.6" x2="1133" y2="1250.6" stroke="#000000" stroke-width="3" stroke-linecap="butt"/>
<line x1="1238.5" y1="1238.6" x2="1238.5" y2="1250.6" stroke="#000000" stroke-width="3" stroke-linecap="butt"/>
<line x1="1344.5" y1="1238.6" x2="1344.5" y2="1250.6" stroke="#000000" stroke-width="3" stroke-linecap="butt"/>
<text transform="translate(1003.9 1104.7) rotate(-90)" font-size="25.7" font-weight="bold" text-anchor="middle" stroke="#000" stroke-width="0.4" textLength="215.8" lengthAdjust="spacingAndGlyphs">caspase-9/β-actin</text>
<line x1="1122.9" y1="957.4" x2="1122.9" y2="981" stroke="#000000" stroke-width="2.9" stroke-linecap="butt"/>
<line x1="1338.5" y1="957.4" x2="1338.5" y2="981" stroke="#000000" stroke-width="2.9" stroke-linecap="butt"/>
<line x1="1122.9" y1="969.2" x2="1338.5" y2="969.2" stroke="#000000" stroke-width="2.9" stroke-linecap="butt"/>
<text x="1227.7" y="961.1" font-size="19.3" font-weight="bold" text-anchor="middle">*</text>
<line x1="1122.9" y1="998.3" x2="1122.9" y2="1022.5" stroke="#000000" stroke-width="2.9" stroke-linecap="butt"/>
<line x1="1225" y1="998.3" x2="1225" y2="1022.5" stroke="#000000" stroke-width="2.9" stroke-linecap="butt"/>
<line x1="1122.9" y1="1010.4" x2="1225" y2="1010.4" stroke="#000000" stroke-width="2.9" stroke-linecap="butt"/>
<text x="1174.3" y="1008.2" font-size="19.3" font-weight="bold" text-anchor="middle">*</text>
<line x1="1236" y1="998.3" x2="1236" y2="1022.5" stroke="#000000" stroke-width="2.9" stroke-linecap="butt"/>
<line x1="1338.5" y1="998.3" x2="1338.5" y2="1022.5" stroke="#000000" stroke-width="2.9" stroke-linecap="butt"/>
<line x1="1236" y1="1010.4" x2="1338.5" y2="1010.4" stroke="#000000" stroke-width="2.9" stroke-linecap="butt"/>
<text x="1287.3" y="1008.2" font-size="19.3" font-weight="bold" text-anchor="middle" letter-spacing="3">**</text>
<line x1="1132.6" y1="1054.9" x2="1132.6" y2="1075.2" stroke="#000000" stroke-width="4.2" stroke-linecap="butt"/>
<line x1="1115.2" y1="1054.9" x2="1150" y2="1054.9" stroke="#000000" stroke-width="4.2" stroke-linecap="butt"/>
<line x1="1115.2" y1="1075.2" x2="1150" y2="1075.2" stroke="#000000" stroke-width="4.2" stroke-linecap="butt"/>
<line x1="1097.35" y1="1066.8" x2="1167.85" y2="1066.8" stroke="#000000" stroke-width="8.2" stroke-linecap="butt"/>
<circle cx="1133.1" cy="1054.9" r="6.4" fill="#000000"/>
<circle cx="1143.9" cy="1065.6" r="6.4" fill="#000000"/>
<circle cx="1121.7" cy="1075.2" r="6.4" fill="#000000"/>
<line x1="1238.6" y1="1040" x2="1238.6" y2="1053" stroke="#A20000" stroke-width="4.2" stroke-linecap="butt"/>
<line x1="1221.2" y1="1040" x2="1256" y2="1040" stroke="#A20000" stroke-width="4.2" stroke-linecap="butt"/>
<line x1="1221.2" y1="1053" x2="1256" y2="1053" stroke="#A20000" stroke-width="4.2" stroke-linecap="butt"/>
<line x1="1203.35" y1="1052.5" x2="1273.85" y2="1052.5" stroke="#A20000" stroke-width="8.2" stroke-linecap="butt"/>
<rect x="1232" y="1033.6" width="12.8" height="12.8" fill="#A20000"/>
<rect x="1221.3" y="1048" width="12.8" height="12.8" fill="#A20000"/>
<rect x="1243.5" y="1046.1" width="12.8" height="12.8" fill="#A20000"/>
<line x1="1344.6" y1="1106.5" x2="1344.6" y2="1155.4" stroke="#0000BA" stroke-width="4.2" stroke-linecap="butt"/>
<line x1="1327.1" y1="1106.5" x2="1362.1" y2="1106.5" stroke="#0000BA" stroke-width="4.2" stroke-linecap="butt"/>
<line x1="1327.1" y1="1155.4" x2="1362.1" y2="1155.4" stroke="#0000BA" stroke-width="4.2" stroke-linecap="butt"/>
<line x1="1309.35" y1="1113.6" x2="1379.85" y2="1113.6" stroke="#0000BA" stroke-width="8.2" stroke-linecap="butt"/>
<polygon points="1333.7,1099 1340.5,1111.6 1326.9,1111.6" fill="#0000BA"/>
<polygon points="1355.7,1108.1 1362.5,1120.7 1348.9,1120.7" fill="#0000BA"/>
<polygon points="1344.4,1150 1351.2,1162.6 1337.6,1162.6" fill="#0000BA"/>
<line x1="1538" y1="953.2" x2="1538" y2="1244.2" stroke="#000000" stroke-width="3" stroke-linecap="butt"/>
<line x1="1536.5" y1="1242.7" x2="1908.3" y2="1242.7" stroke="#000000" stroke-width="3" stroke-linecap="butt"/>
<line x1="1526.2" y1="1242.7" x2="1538" y2="1242.7" stroke="#000000" stroke-width="3" stroke-linecap="butt"/>
<text x="1523.5" y="1250.3" font-size="22.6" font-weight="bold" text-anchor="end" stroke="#000" stroke-width="0.3">0.0</text>
<line x1="1526.2" y1="1185.1" x2="1538" y2="1185.1" stroke="#000000" stroke-width="3" stroke-linecap="butt"/>
<text x="1523.5" y="1192.7" font-size="22.6" font-weight="bold" text-anchor="end" stroke="#000" stroke-width="0.3">0.2</text>
<line x1="1526.2" y1="1127.5" x2="1538" y2="1127.5" stroke="#000000" stroke-width="3" stroke-linecap="butt"/>
<text x="1523.5" y="1135.1" font-size="22.6" font-weight="bold" text-anchor="end" stroke="#000" stroke-width="0.3">0.4</text>
<line x1="1526.2" y1="1069.9" x2="1538" y2="1069.9" stroke="#000000" stroke-width="3" stroke-linecap="butt"/>
<text x="1523.5" y="1077.5" font-size="22.6" font-weight="bold" text-anchor="end" stroke="#000" stroke-width="0.3">0.6</text>
<line x1="1526.2" y1="1012.3" x2="1538" y2="1012.3" stroke="#000000" stroke-width="3" stroke-linecap="butt"/>
<text x="1523.5" y="1019.9" font-size="22.6" font-weight="bold" text-anchor="end" stroke="#000" stroke-width="0.3">0.8</text>
<line x1="1526.2" y1="954.7" x2="1538" y2="954.7" stroke="#000000" stroke-width="3" stroke-linecap="butt"/>
<text x="1523.5" y="962.3" font-size="22.6" font-weight="bold" text-anchor="end" stroke="#000" stroke-width="0.3">1.0</text>
<line x1="1612.1" y1="1242.7" x2="1612.1" y2="1254.7" stroke="#000000" stroke-width="3" stroke-linecap="butt"/>
<line x1="1722.4" y1="1242.7" x2="1722.4" y2="1254.7" stroke="#000000" stroke-width="3" stroke-linecap="butt"/>
<line x1="1832.8" y1="1242.7" x2="1832.8" y2="1254.7" stroke="#000000" stroke-width="3" stroke-linecap="butt"/>
<text transform="translate(1481.9 1097.5) rotate(-90)" font-size="27.7" font-weight="bold" text-anchor="middle" stroke="#000" stroke-width="0.4" textLength="232.7" lengthAdjust="spacingAndGlyphs">caspase-1/β-actin</text>
<line x1="1616.4" y1="970.8" x2="1616.4" y2="996.4" stroke="#000000" stroke-width="2.9" stroke-linecap="butt"/>
<line x1="1723.1" y1="970.8" x2="1723.1" y2="996.4" stroke="#000000" stroke-width="2.9" stroke-linecap="butt"/>
<line x1="1616.4" y1="983.6" x2="1723.1" y2="983.6" stroke="#000000" stroke-width="2.9" stroke-linecap="butt"/>
<text x="1668.5" y="976.5" font-size="20.8" font-weight="bold" text-anchor="middle">*</text>
<line x1="1612" y1="1080.2" x2="1612" y2="1105.6" stroke="#000000" stroke-width="4.2" stroke-linecap="butt"/>
<line x1="1593.8" y1="1080.2" x2="1630.2" y2="1080.2" stroke="#000000" stroke-width="4.2" stroke-linecap="butt"/>
<line x1="1593.8" y1="1105.6" x2="1630.2" y2="1105.6" stroke="#000000" stroke-width="4.2" stroke-linecap="butt"/>
<line x1="1575.15" y1="1090.8" x2="1648.85" y2="1090.8" stroke="#000000" stroke-width="8.2" stroke-linecap="butt"/>
<circle cx="1600.3" cy="1079.8" r="6.4" fill="#000000"/>
<circle cx="1623.6" cy="1090.8" r="6.4" fill="#000000"/>
<circle cx="1611.8" cy="1105.6" r="6.4" fill="#000000"/>
<line x1="1722.6" y1="1016.1" x2="1722.6" y2="1078.3" stroke="#A20000" stroke-width="4.2" stroke-linecap="butt"/>
<line x1="1704.4" y1="1016.1" x2="1740.8" y2="1016.1" stroke="#A20000" stroke-width="4.2" stroke-linecap="butt"/>
<line x1="1704.4" y1="1078.3" x2="1740.8" y2="1078.3" stroke="#A20000" stroke-width="4.2" stroke-linecap="butt"/>
<line x1="1685.75" y1="1056.1" x2="1759.45" y2="1056.1" stroke="#A20000" stroke-width="8.2" stroke-linecap="butt"/>
<rect x="1716.2" y="1009.7" width="12.8" height="12.8" fill="#A20000"/>
<rect x="1716.2" y="1049.7" width="12.8" height="12.8" fill="#A20000"/>
<rect x="1716.2" y="1071.9" width="12.8" height="12.8" fill="#A20000"/>
<line x1="1833.2" y1="1032.4" x2="1833.2" y2="1144.6" stroke="#0000BA" stroke-width="4.2" stroke-linecap="butt"/>
<line x1="1815.1" y1="1032.4" x2="1851.3" y2="1032.4" stroke="#0000BA" stroke-width="4.2" stroke-linecap="butt"/>
<line x1="1815.1" y1="1144.6" x2="1851.3" y2="1144.6" stroke="#0000BA" stroke-width="4.2" stroke-linecap="butt"/>
<line x1="1796.5" y1="1078.3" x2="1869.9" y2="1078.3" stroke="#0000BA" stroke-width="8.2" stroke-linecap="butt"/>
<polygon points="1832.9,1025.8 1839.7,1038.4 1826.1,1038.4" fill="#0000BA"/>
<polygon points="1832.9,1072.7 1839.7,1085.3 1826.1,1085.3" fill="#0000BA"/>
<polygon points="1832.9,1139.2 1839.7,1151.8 1826.1,1151.8" fill="#0000BA"/>
<rect x="1858.4" y="1168.8" width="28.6" height="12" fill="none" stroke="#000000" stroke-width="4.3"/>
<text x="1907.4" y="1184" font-size="24.6" font-weight="normal" text-anchor="start">Naive</text>
<rect x="1858.4" y="1194.9" width="28.6" height="12" fill="none" stroke="#A20000" stroke-width="4.3"/>
<text x="1907.4" y="1210.1" font-size="24.6" font-weight="normal" text-anchor="start">3d_cont.</text>
<rect x="1858.4" y="1222" width="28.6" height="12" fill="none" stroke="#0000BA" stroke-width="4.3"/>
<text x="1907.4" y="1237.2" font-size="24.6" font-weight="normal" text-anchor="start">3d_G2</text>
<text x="296.1" y="703.5" font-size="30.2" font-weight="normal" text-anchor="middle">Naive</text>
<text x="541.2" y="703.5" font-size="30.2" font-weight="normal" text-anchor="middle">3d_cont.</text>
<text x="792.6" y="703.5" font-size="30.2" font-weight="normal" text-anchor="middle">3d_G2</text>
<line x1="183.5" y1="724.4" x2="397.3" y2="723" stroke="#000000" stroke-width="2.4" stroke-linecap="butt"/>
<line x1="434.8" y1="722.4" x2="648.6" y2="720.4" stroke="#000000" stroke-width="2.4" stroke-linecap="butt"/>
<line x1="695.5" y1="722.4" x2="909.4" y2="720.4" stroke="#000000" stroke-width="2.4" stroke-linecap="butt"/>
<text x="156.7" y="784.2" font-size="29.9" font-weight="normal" text-anchor="end">caspase-1</text>
<text x="157.8" y="861" font-size="29.9" font-weight="normal" text-anchor="end">caspase-9</text>
<text x="157.8" y="946.1" font-size="29.9" font-weight="normal" text-anchor="end">NF-κB</text>
<text x="157.8" y="1047" font-size="31.7" font-weight="normal" text-anchor="end">caspase-3</text>
<text x="157.8" y="1140.5" font-size="31.5" font-weight="normal" text-anchor="end">β-actin</text>
<clipPath id="cp0"><rect x="168" y="745" width="764" height="61.6"/></clipPath>
<rect x="168" y="745" width="764" height="61.6" fill="#E2E2E2"/>
<clipPath id="cp1"><rect x="168" y="827.8" width="762" height="48.2"/></clipPath>
<rect x="168" y="827.8" width="762" height="48.2" fill="#F7F7F7"/>
<clipPath id="cp2"><rect x="167" y="897" width="763.6" height="73.5"/></clipPath>
<rect x="167" y="897" width="763.6" height="73.5" fill="#FAFAFA"/>
<clipPath id="cp3"><rect x="167" y="1004.1" width="764.2" height="62.7"/></clipPath>
<rect x="167" y="1004.1" width="764.2" height="62.7" fill="#FAFAFA"/>
<clipPath id="cp4"><rect x="167" y="1101.5" width="763.2" height="56.7"/></clipPath>
<rect x="167" y="1101.5" width="763.2" height="56.7" fill="#FAFAFA"/>
<g clip-path="url(#cp0)">
<rect x="168" y="745" width="764" height="61.6" filter="url(#noise)" opacity="0.3"/>
<rect x="690" y="735" width="260" height="81.6" fill="#fff" opacity="0.3" filter="url(#b4)"/>
<g filter="url(#b4)">
<ellipse cx="205" cy="779.3" rx="20" ry="6.5" fill="#000" fill-opacity="0.8"/>
<ellipse cx="212" cy="781" rx="9" ry="5" fill="#000" fill-opacity="0.5"/>
<ellipse cx="233" cy="781.5" rx="10" ry="4.5" fill="#000" fill-opacity="0.4"/>
<ellipse cx="188" cy="777.5" rx="9" ry="4" fill="#000" fill-opacity="0.3"/>
<ellipse cx="300" cy="779.6" rx="24" ry="8.5" fill="#000" fill-opacity="0.92"/>
<ellipse cx="286" cy="780.5" rx="10" ry="7" fill="#000" fill-opacity="0.5"/>
<ellipse cx="271" cy="782.5" rx="10" ry="5.5" fill="#000" fill-opacity="0.55"/>
<ellipse cx="351.5" cy="781.5" rx="6.5" ry="5.5" fill="#000" fill-opacity="0.7"/>
<ellipse cx="371" cy="782.5" rx="16" ry="3.5" fill="#000" fill-opacity="0.3"/>
<ellipse cx="391.3" cy="782.4" rx="13" ry="7.5" fill="#000" fill-opacity="0.92"/>
<ellipse cx="446" cy="783.6" rx="25" ry="6" fill="#000" fill-opacity="0.5"/>
<ellipse cx="470" cy="783.8" rx="14" ry="7.5" fill="#000" fill-opacity="0.9"/>
<ellipse cx="524" cy="781.7" rx="15" ry="7.5" fill="#000" fill-opacity="0.85"/>
<ellipse cx="541" cy="782.5" rx="14" ry="5" fill="#000" fill-opacity="0.5"/>
<ellipse cx="558.5" cy="782.4" rx="14" ry="7.5" fill="#000" fill-opacity="0.85"/>
<ellipse cx="605" cy="779.6" rx="8" ry="4.5" fill="#000" fill-opacity="0.4"/>
<ellipse cx="622.7" cy="782.4" rx="14" ry="7.5" fill="#000" fill-opacity="0.95"/>
<ellipse cx="649.5" cy="779.7" rx="9" ry="5" fill="#000" fill-opacity="0.5"/>
<ellipse cx="700.4" cy="780.9" rx="24" ry="6" fill="#000" fill-opacity="0.5"/>
<ellipse cx="776.2" cy="779.7" rx="9" ry="5" fill="#000" fill-opacity="0.45"/>
<ellipse cx="797" cy="778.5" rx="14" ry="3.5" fill="#000" fill-opacity="0.28"/>
<ellipse cx="820" cy="775.2" rx="13" ry="5.5" fill="#000" fill-opacity="0.45"/>
<ellipse cx="883" cy="776.3" rx="29" ry="9.5" fill="#000" fill-opacity="1"/>
<ellipse cx="867" cy="776" rx="12" ry="7" fill="#000" fill-opacity="0.8"/>
<ellipse cx="913" cy="770.5" rx="12" ry="4" fill="#000" fill-opacity="0.5" transform="rotate(-25 913 770.5)"/>
</g>
<g filter="url(#b2)">
<ellipse cx="217.5" cy="801.3" rx="2.2" ry="1.5" fill="#000" fill-opacity="0.6"/>
<ellipse cx="351" cy="779" rx="1.5" ry="1.5" fill="#000" fill-opacity="0.5"/>
<ellipse cx="349" cy="785" rx="1.4" ry="1.4" fill="#000" fill-opacity="0.5"/>
<ellipse cx="354.5" cy="785" rx="1.4" ry="1.4" fill="#000" fill-opacity="0.5"/>
<ellipse cx="563" cy="776" rx="1.3" ry="1.3" fill="#000" fill-opacity="0.5"/>
</g></g>
<g clip-path="url(#cp1)"><g filter="url(#b2)">
<path d="M185.83,835.67 C197.56,833.58 227.44,833.58 239.17,835.67 C250.28,835.67 250.28,852.33 239.17,852.33 C227.44,854.16 197.56,854.16 185.83,852.33 C174.72,852.33 174.72,835.67 185.83,835.67Z" fill="#000" fill-opacity="1"/>
<path d="M264,844 C264,840 270,839.2 280,838.4 C295,837 330,836.5 348,838.5 C357,839.5 357,857 348,858.3 C335,860 312,859.5 298,856 C285,852.5 276,850 268,848.8 C264.5,848.2 264,847 264,844Z" fill="#000"/>
<path d="M361.71,840.79 C376.8,839.49 415.2,839.49 430.29,840.29 C441.9,840.29 441.9,857.71 430.29,857.71 C415.2,861.01 376.8,861.01 361.71,858.21 C350.1,858.21 350.1,840.79 361.71,840.79Z" fill="#000" fill-opacity="1"/>
<path d="M447.71,840.79 C460.93,840.49 494.57,840.49 507.79,842.29 C519.4,842.29 519.4,859.71 507.79,859.71 C494.57,862.01 460.93,862.01 447.71,858.21 C436.1,858.21 436.1,840.79 447.71,840.79Z" fill="#000" fill-opacity="1"/>
<path d="M531.6,843.4 C542.56,843.53 570.44,843.53 581.4,843.4 C592.87,843.4 592.87,860.6 581.4,860.6 C570.44,866.47 542.56,866.47 531.6,860.6 C520.13,860.6 520.13,843.4 531.6,843.4Z" fill="#000" fill-opacity="1"/>
<path d="M604.77,841.23 C618.18,839.01 652.32,839.01 665.73,838.73 C678.76,838.73 678.76,858.27 665.73,858.27 C652.32,863.16 618.18,863.16 604.77,860.77 C591.74,860.77 591.74,841.23 604.77,841.23Z" fill="#000" fill-opacity="1"/>
<path d="M693.5,841 C705.49,840.83 736.01,840.83 748,842 C757.33,842 757.33,856 748,856 C736.01,859.5 705.49,859.5 693.5,855 C684.17,855 684.17,841 693.5,841Z" fill="#000" fill-opacity="1"/>
<path d="M771.38,843.62 C782.98,843.54 812.52,843.54 824.12,845.12 C830.62,845.12 830.62,854.88 824.12,854.88 C812.52,857.62 782.98,857.62 771.38,853.38 C764.88,853.38 764.88,843.62 771.38,843.62Z" fill="#000" fill-opacity="1"/>
<path d="M852.5,844 C865.59,843.42 898.91,843.42 912,845.5 C918,845.5 918,854.5 912,854.5 C898.91,856.42 865.59,856.42 852.5,853 C846.5,853 846.5,844 852.5,844Z" fill="#000" fill-opacity="1"/>
</g>
<g filter="url(#b3)">
<ellipse cx="702" cy="870.5" rx="2.2" ry="2.8" fill="#000" fill-opacity="0.35"/>
<ellipse cx="632" cy="831" rx="12" ry="1.3" fill="#000" fill-opacity="0.5"/>
</g></g>
<g clip-path="url(#cp2)"><g filter="url(#b2)">
<ellipse cx="191" cy="928.6" rx="16" ry="6.6" fill="#000" fill-opacity="1"/>
<ellipse cx="225" cy="928.2" rx="19.5" ry="6.8" fill="#000" fill-opacity="1"/>
<ellipse cx="207" cy="928.5" rx="8" ry="4.2" fill="#000" fill-opacity="1"/>
<ellipse cx="186" cy="943" rx="6" ry="1.5" fill="#000" fill-opacity="0.15"/>
<ellipse cx="228" cy="943" rx="7" ry="1.5" fill="#000" fill-opacity="0.15"/>
<path d="M266,921 C278.54,918.42 310.46,918.42 323,922.5 C333.67,922.5 333.67,938.5 323,938.5 C310.46,939.75 278.54,939.75 266,937 C255.33,937 255.33,921 266,921Z" fill="#000" fill-opacity="1"/>
<ellipse cx="280" cy="944.5" rx="10" ry="2" fill="#000" fill-opacity="0.35"/>
<ellipse cx="306" cy="944.5" rx="17" ry="2.6" fill="#000" fill-opacity="0.5"/>
<path d="M350.3,922.9 C362.36,921.37 393.04,921.37 405.1,924.9 C415.23,924.9 415.23,940.1 405.1,940.1 C393.04,941.63 362.36,941.63 350.3,938.1 C340.17,938.1 340.17,922.9 350.3,922.9Z" fill="#000" fill-opacity="1"/>
<ellipse cx="362" cy="944" rx="12" ry="2" fill="#000" fill-opacity="0.35"/>
<ellipse cx="392" cy="945" rx="16" ry="2.4" fill="#000" fill-opacity="0.45"/>
<path d="M436.49,921.21 C446.22,919.6 470.98,919.6 480.71,921.21 C503.1,921.21 503.1,954.79 480.71,954.79 C470.98,957.07 446.22,957.07 436.49,954.79 C414.1,954.79 414.1,921.21 436.49,921.21Z" fill="#000" fill-opacity="1"/>
<path d="M511.99,925.01 C524.75,920.16 557.25,920.16 570.01,922.01 C583.33,922.01 583.33,941.99 570.01,941.99 C557.25,944.84 524.75,944.84 511.99,944.99 C498.67,944.99 498.67,925.01 511.99,925.01Z" fill="#000" fill-opacity="1"/>
<path d="M512.65,936.35 C522.04,935.88 545.96,935.88 555.35,936.35 C565.55,936.35 565.55,951.65 555.35,951.65 C545.96,953.45 522.04,953.45 512.65,951.65 C502.45,951.65 502.45,936.35 512.65,936.35Z" fill="#000" fill-opacity="1"/>
<path d="M597.46,922.64 C610.81,919.7 644.79,919.7 658.14,921.14 C668.62,921.14 668.62,936.86 658.14,936.86 C644.79,939.13 610.81,939.13 597.46,938.36 C586.98,938.36 586.98,922.64 597.46,922.64Z" fill="#000" fill-opacity="1"/>
<ellipse cx="650" cy="929" rx="17" ry="12.5" fill="#000" fill-opacity="1"/>
<path d="M596.2,941.8 C609.53,941.15 643.47,941.15 656.8,941.3 C661.07,941.3 661.07,947.7 656.8,947.7 C643.47,949.68 609.53,949.68 596.2,948.2 C591.93,948.2 591.93,941.8 596.2,941.8Z" fill="#000" fill-opacity="1"/>
<ellipse cx="646" cy="941" rx="16" ry="7" fill="#000" fill-opacity="1"/>
<path d="M673.6,926.9 C686.32,925.7 718.68,925.7 731.4,926.9 C737.53,926.9 737.53,936.1 731.4,936.1 C718.68,937.97 686.32,937.97 673.6,936.1 C667.47,936.1 667.47,926.9 673.6,926.9Z" fill="#000" fill-opacity="1"/>
<path d="M681.52,938.48 C692.29,937.59 719.71,937.59 730.48,937.98 C737.84,937.98 737.84,949.02 730.48,949.02 C719.71,951.24 692.29,951.24 681.52,949.52 C674.16,949.52 674.16,938.48 681.52,938.48Z" fill="#000" fill-opacity="1"/>
<ellipse cx="708" cy="938" rx="26" ry="10" fill="#000" fill-opacity="1"/>
<path d="M758.52,922.98 C767.09,921.68 788.91,921.68 797.48,922.98 C804.84,922.98 804.84,934.02 797.48,934.02 C788.91,935.32 767.09,935.32 758.52,934.02 C751.16,934.02 751.16,922.98 758.52,922.98Z" fill="#000" fill-opacity="1"/>
<ellipse cx="814" cy="926.3" rx="9" ry="3.5" fill="#000" fill-opacity="0.92"/>
<path d="M759.04,939.96 C767.38,939.1 788.62,939.1 796.96,939.46 C802.35,939.46 802.35,947.54 796.96,947.54 C788.62,949.07 767.38,949.07 759.04,948.04 C753.65,948.04 753.65,939.96 759.04,939.96Z" fill="#000" fill-opacity="1"/>
<rect x="790" y="936" width="32" height="5" rx="2.5" ry="2.5" fill="#000" fill-opacity="0.75" transform="rotate(-13 806 938.5)"/>
<path d="M846.61,918.29 C860.18,917.24 894.72,917.24 908.29,918.29 C916.57,918.29 916.57,930.71 908.29,930.71 C894.72,931.5 860.18,931.5 846.61,930.71 C838.33,930.71 838.33,918.29 846.61,918.29Z" fill="#000" fill-opacity="1"/>
<path d="M845.69,933.11 C860.02,932.7 896.48,932.7 910.81,933.11 C915.73,933.11 915.73,940.49 910.81,940.49 C896.48,941.17 860.02,941.17 845.69,940.49 C840.77,940.49 840.77,933.11 845.69,933.11Z" fill="#000" fill-opacity="0.85"/>
</g></g>
<g clip-path="url(#cp3)"><g filter="url(#b3)">
<ellipse cx="206" cy="1030" rx="14" ry="5" fill="#000" fill-opacity="0.75"/>
<ellipse cx="229" cy="1033" rx="12" ry="3" fill="#000" fill-opacity="0.3"/>
<ellipse cx="186" cy="1028.5" rx="10" ry="2.5" fill="#000" fill-opacity="0.25"/>
</g><g filter="url(#b2)">
<path d="M263.8,1025.7 C276.32,1024.85 308.18,1024.85 320.7,1027.2 C329.77,1027.2 329.77,1040.8 320.7,1040.8 C308.18,1042.98 276.32,1042.98 263.8,1039.3 C254.73,1039.3 254.73,1025.7 263.8,1025.7Z" fill="#000" fill-opacity="1"/>
<path d="M346.3,1030.2 C359.92,1030.02 394.58,1030.02 408.2,1031.7 C414.6,1031.7 414.6,1041.3 408.2,1041.3 C394.58,1042.82 359.92,1042.82 346.3,1039.8 C339.9,1039.8 339.9,1030.2 346.3,1030.2Z" fill="#000" fill-opacity="1"/>
<ellipse cx="386" cy="1037.5" rx="26" ry="9.5" fill="#000" fill-opacity="1"/>
<path d="M432.62,1034.38 C445.99,1029.29 480.01,1029.29 493.38,1027.88 C500.88,1027.88 500.88,1039.12 493.38,1039.12 C480.01,1045.54 445.99,1045.54 432.62,1045.62 C425.12,1045.62 425.12,1034.38 432.62,1034.38Z" fill="#000" fill-opacity="1"/>
<path d="M518.69,1029.31 C530.71,1022.56 561.29,1022.56 573.31,1023.31 C583.56,1023.31 583.56,1038.69 573.31,1038.69 C561.29,1044.77 530.71,1044.77 518.69,1044.69 C508.44,1044.69 508.44,1029.31 518.69,1029.31Z" fill="#000" fill-opacity="1"/>
<path d="M602.12,1028.38 C615.27,1023.62 648.73,1023.62 661.88,1023.88 C670.04,1023.88 670.04,1036.12 661.88,1036.12 C648.73,1042.21 615.27,1042.21 602.12,1040.62 C593.96,1040.62 593.96,1028.38 602.12,1028.38Z" fill="#000" fill-opacity="1"/>
<ellipse cx="643" cy="1031" rx="24" ry="10.8" fill="#000" fill-opacity="1"/>
<path d="M672.5,1032.5 C678.22,1032.83 692.78,1032.83 698.5,1034.5 C700.5,1034.5 700.5,1037.5 698.5,1037.5 C692.78,1037.83 678.22,1037.83 672.5,1035.5 C670.5,1035.5 670.5,1032.5 672.5,1032.5Z" fill="#000" fill-opacity="0.85"/>
<ellipse cx="705" cy="1037.5" rx="21" ry="8" fill="#000" fill-opacity="1"/>
<ellipse cx="731" cy="1039.8" rx="15" ry="6.5" fill="#000" fill-opacity="1"/>
<path d="M694.2,1033.8 C704.89,1033.73 732.11,1033.73 742.8,1035.8 C748.4,1035.8 748.4,1044.2 742.8,1044.2 C732.11,1044.93 704.89,1044.93 694.2,1042.2 C688.6,1042.2 688.6,1033.8 694.2,1033.8Z" fill="#000" fill-opacity="1"/>
<path d="M767.6,1035.9 C780.54,1034.53 813.46,1034.53 826.4,1032.9 C831.2,1032.9 831.2,1040.1 826.4,1040.1 C813.46,1044.13 780.54,1044.13 767.6,1043.1 C762.8,1043.1 762.8,1035.9 767.6,1035.9Z" fill="#000" fill-opacity="0.9"/>
<ellipse cx="783" cy="1040.5" rx="17" ry="6.5" fill="#000" fill-opacity="0.95"/>
<ellipse cx="816" cy="1037.3" rx="12" ry="4.5" fill="#000" fill-opacity="0.8"/>
<path d="M856,1035.5 C869.64,1035 904.36,1035 918,1034.5 C922,1034.5 922,1040.5 918,1040.5 C904.36,1043 869.64,1043 856,1041.5 C852,1041.5 852,1035.5 856,1035.5Z" fill="#000" fill-opacity="0.6"/>
<ellipse cx="868" cy="1038.5" rx="15" ry="6" fill="#000" fill-opacity="0.7"/>
<ellipse cx="908" cy="1037.5" rx="13" ry="5" fill="#000" fill-opacity="0.65"/>
</g></g>
<g clip-path="url(#cp4)"><g filter="url(#b2)">
<path d="M182.16,1121.74 C196.17,1119.95 231.83,1119.95 245.84,1120.94 C255.39,1120.94 255.39,1135.26 245.84,1135.26 C231.83,1139.05 196.17,1139.05 182.16,1136.06 C172.61,1136.06 172.61,1121.74 182.16,1121.74Z" fill="#000" fill-opacity="1"/>
<path d="M262.62,1123.88 C278.18,1129.36 317.82,1129.36 333.38,1125.18 C340.87,1125.18 340.87,1136.42 333.38,1136.42 C317.82,1144.81 278.18,1144.81 262.62,1135.12 C255.13,1135.12 255.13,1123.88 262.62,1123.88Z" fill="#000" fill-opacity="1"/>
<path d="M346.62,1125.18 C361.52,1131.71 399.48,1131.71 414.38,1124.58 C421.87,1124.58 421.87,1135.82 414.38,1135.82 C399.48,1147.16 361.52,1147.16 346.62,1136.42 C339.13,1136.42 339.13,1125.18 346.62,1125.18Z" fill="#000" fill-opacity="1"/>
<path d="M433.89,1126.91 C447.14,1125.86 480.86,1125.86 494.11,1127.51 C501.96,1127.51 501.96,1139.29 494.11,1139.29 C480.86,1142.6 447.14,1142.6 433.89,1138.69 C426.04,1138.69 426.04,1126.91 433.89,1126.91Z" fill="#000" fill-opacity="1"/>
<path d="M512.89,1127.81 C527.68,1125.1 565.32,1125.1 580.11,1121.61 C587.96,1121.61 587.96,1133.39 580.11,1133.39 C565.32,1141.84 527.68,1141.84 512.89,1139.59 C505.04,1139.59 505.04,1127.81 512.89,1127.81Z" fill="#000" fill-opacity="1"/>
<path d="M594.04,1123.45 C608.99,1119.08 647.01,1119.08 661.96,1115.65 C670.01,1115.65 670.01,1127.75 661.96,1127.75 C647.01,1135.72 608.99,1135.72 594.04,1135.55 C585.99,1135.55 585.99,1123.45 594.04,1123.45Z" fill="#000" fill-opacity="1"/>
<path d="M679.99,1119.01 C693.2,1122.7 726.8,1122.7 740.01,1120.01 C746.66,1120.01 746.66,1129.99 740.01,1129.99 C726.8,1136.44 693.2,1136.44 679.99,1128.99 C673.34,1128.99 673.34,1119.01 679.99,1119.01Z" fill="#000" fill-opacity="1"/>
<path d="M758.46,1120.14 C772.78,1122.42 809.22,1122.42 823.54,1120.54 C830.82,1120.54 830.82,1131.46 823.54,1131.46 C809.22,1137.45 772.78,1137.45 758.46,1131.06 C751.18,1131.06 751.18,1120.14 758.46,1120.14Z" fill="#000" fill-opacity="1"/>
<path d="M845.3,1120.7 C860.79,1119.13 900.21,1119.13 915.7,1118.1 C922.77,1118.1 922.77,1128.7 915.7,1128.7 C900.21,1133.73 860.79,1133.73 845.3,1131.3 C838.23,1131.3 838.23,1120.7 845.3,1120.7Z" fill="#000" fill-opacity="1"/>
</g></g>
<rect x="169" y="746" width="762" height="59.6" fill="none" stroke="#000" stroke-width="2"/>
<rect x="169" y="828.8" width="760" height="46.2" fill="none" stroke="#000" stroke-width="2"/>
<rect x="168" y="898" width="761.6" height="71.5" fill="none" stroke="#000" stroke-width="2"/>
<rect x="168" y="1005.1" width="762.2" height="60.7" fill="none" stroke="#000" stroke-width="2"/>
<rect x="168" y="1102.5" width="761.2" height="54.7" fill="none" stroke="#000" stroke-width="2"/>
</svg>
</body></html>
